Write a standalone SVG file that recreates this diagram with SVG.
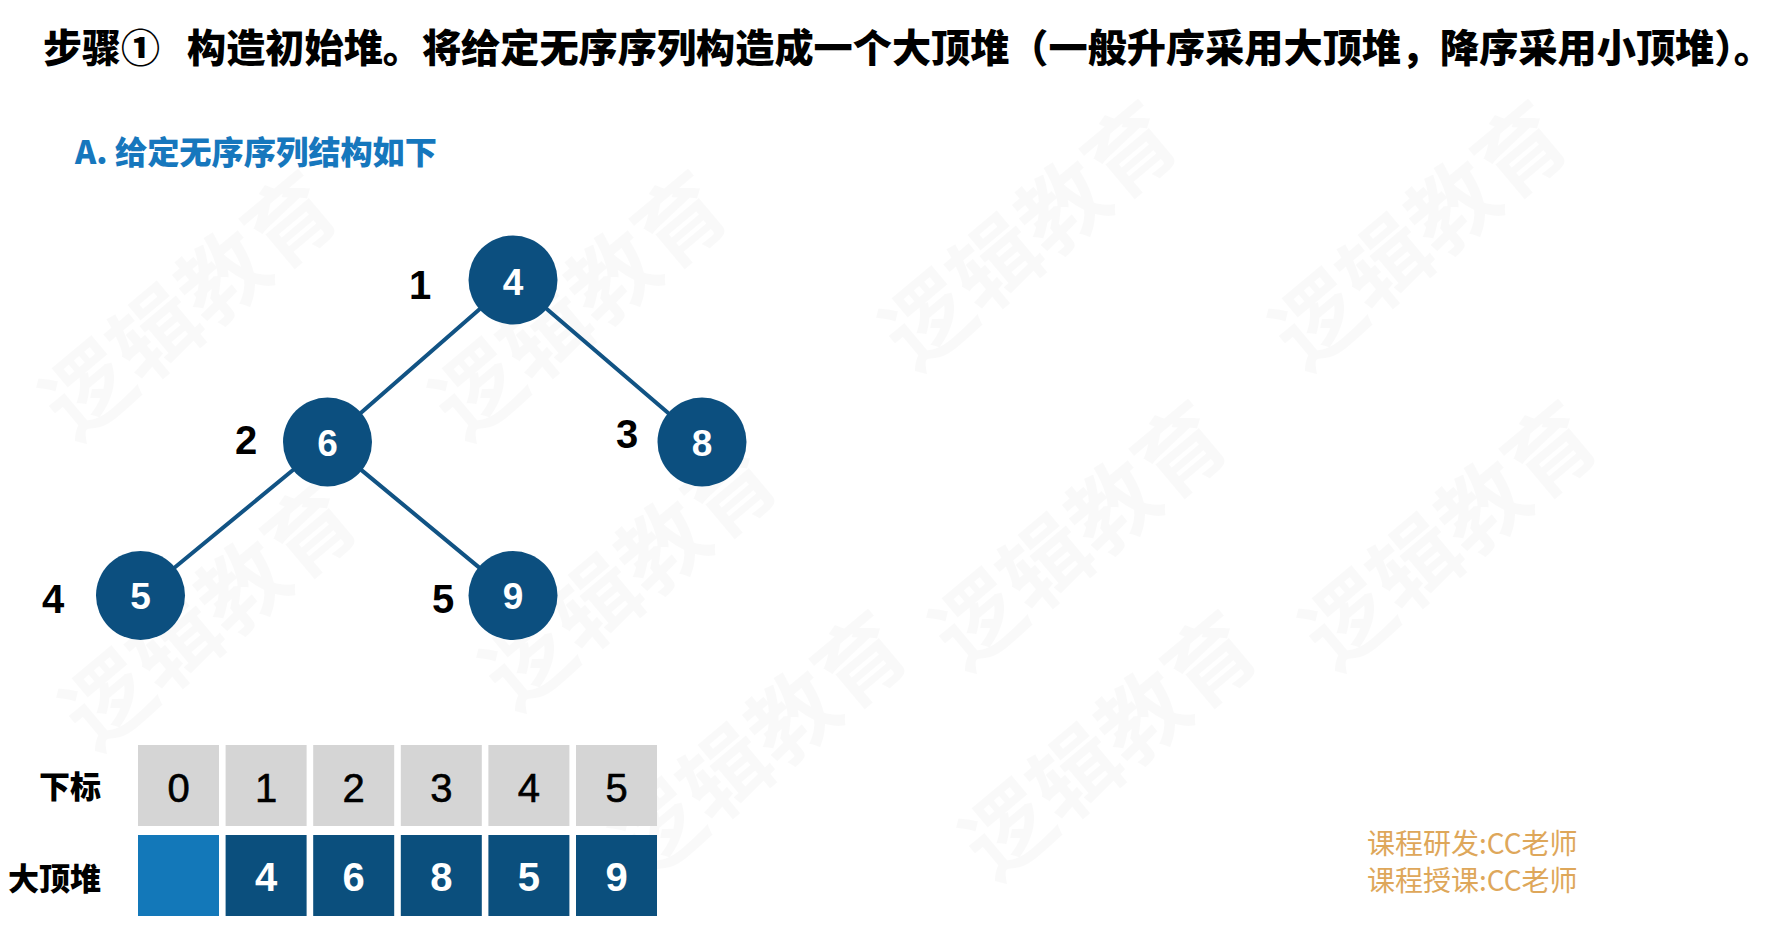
<svg xmlns="http://www.w3.org/2000/svg" width="1788" height="928" viewBox="0 0 1788 928">
  <defs>
    <style>
      .cjk { font-family: "Noto Sans CJK SC", "Noto Sans", sans-serif; }
      .title { font-size: 39px; font-weight: 900; fill: #000; }
      .sub { font-size: 32px; font-weight: 900; fill: #1677bd; }
      .wm { font-size: 88px; font-weight: 700; fill: #000; fill-opacity: 0.022; }
      .node { fill: #0c4f7f; }
      .ntext { font-family: "Liberation Sans", Arial, sans-serif; font-size: 37px; font-weight: 700; fill: #fff; text-anchor: middle; }
      .idx { font-family: "Liberation Sans", Arial, sans-serif; font-size: 40px; font-weight: 700; fill: #000; text-anchor: middle; }
      .edge { stroke: #115384; stroke-width: 4; stroke-linecap: round; fill: none; }
      .gray { fill: #d5d5d5; }
      .lblue { fill: #1378b9; }
      .dblue { fill: #0b4f7d; }
      .t1 { font-family: "Liberation Sans", Arial, sans-serif; font-size: 40px; fill: #000; text-anchor: middle; stroke: #000; stroke-width: 0.6; }
      .t2 { font-family: "Liberation Sans", Arial, sans-serif; font-size: 40px; font-weight: 700; fill: #fff; text-anchor: middle; }
      .rowlbl { font-size: 31px; font-weight: 900; fill: #000; text-anchor: end; }
      .foot { font-size: 28px; fill: #dea75a; }
    </style>
  </defs>
  <rect width="1788" height="928" fill="#fff"/>

  <g id="watermark" class="cjk wm">
    <text transform="translate(210,330) rotate(-40)" text-anchor="middle">逻辑教育</text>
    <text transform="translate(600,330) rotate(-40)" text-anchor="middle">逻辑教育</text>
    <text transform="translate(1050,260) rotate(-40)" text-anchor="middle">逻辑教育</text>
    <text transform="translate(1440,260) rotate(-40)" text-anchor="middle">逻辑教育</text>
    <text transform="translate(230,640) rotate(-40)" text-anchor="middle">逻辑教育</text>
    <text transform="translate(650,600) rotate(-40)" text-anchor="middle">逻辑教育</text>
    <text transform="translate(1100,560) rotate(-40)" text-anchor="middle">逻辑教育</text>
    <text transform="translate(1470,560) rotate(-40)" text-anchor="middle">逻辑教育</text>
    <text transform="translate(780,770) rotate(-40)" text-anchor="middle">逻辑教育</text>
    <text transform="translate(1130,770) rotate(-40)" text-anchor="middle">逻辑教育</text>
  </g>

  <g id="title" class="cjk title">
    <text x="43" y="62">步骤①</text>
    <text x="187" y="62" textLength="1586" lengthAdjust="spacingAndGlyphs">构造初始堆。将给定无序序列构造成一个大顶堆（一般升序采用大顶堆，降序采用小顶堆）。</text>
  </g>

  <g id="subtitle" class="cjk sub">
    <text x="75" y="164" textLength="362" lengthAdjust="spacingAndGlyphs">A. 给定无序序列结构如下</text>
  </g>

  <g id="connectors">
    <line class="edge" x1="479.5" y1="309.3" x2="361" y2="412.7"/>
    <line class="edge" x1="546.8" y1="309" x2="668.2" y2="413"/>
    <line class="edge" x1="293" y1="470" x2="175" y2="567.3"/>
    <line class="edge" x1="361.8" y1="470.4" x2="478.7" y2="567.1"/>
  </g>

  <g id="node-1">
    <circle class="node" cx="513" cy="280" r="44.5"/>
    <text class="ntext" x="513" y="295">4</text>
    <text class="idx" x="420" y="299">1</text>
  </g>
  <g id="node-2">
    <circle class="node" cx="327.5" cy="442" r="44.5"/>
    <text class="ntext" x="327.5" y="456">6</text>
    <text class="idx" x="246" y="454">2</text>
  </g>
  <g id="node-3">
    <circle class="node" cx="702" cy="442" r="44.5"/>
    <text class="ntext" x="702" y="456">8</text>
    <text class="idx" x="627" y="448">3</text>
  </g>
  <g id="node-4">
    <circle class="node" cx="140.5" cy="595.5" r="44.5"/>
    <text class="ntext" x="140.5" y="609">5</text>
    <text class="idx" x="53" y="613">4</text>
  </g>
  <g id="node-5">
    <circle class="node" cx="513" cy="595.5" r="44.5"/>
    <text class="ntext" x="513" y="609">9</text>
    <text class="idx" x="443" y="613">5</text>
  </g>

  <g id="array-table">
    <text class="cjk rowlbl" x="101" y="798">下标</text>
    <text class="cjk rowlbl" x="101" y="890">大顶堆</text>

    <rect class="gray" x="138" y="745" width="81" height="81"/>
    <rect class="gray" x="225.6" y="745" width="81" height="81"/>
    <rect class="gray" x="313.2" y="745" width="81" height="81"/>
    <rect class="gray" x="400.8" y="745" width="81" height="81"/>
    <rect class="gray" x="488.4" y="745" width="81" height="81"/>
    <rect class="gray" x="576" y="745" width="81" height="81"/>
    <text class="t1" x="178.5" y="802">0</text>
    <text class="t1" x="266.1" y="802">1</text>
    <text class="t1" x="353.7" y="802">2</text>
    <text class="t1" x="441.3" y="802">3</text>
    <text class="t1" x="528.9" y="802">4</text>
    <text class="t1" x="616.5" y="802">5</text>

    <rect class="lblue" x="138" y="835" width="81" height="81"/>
    <rect class="dblue" x="225.6" y="835" width="81" height="81"/>
    <rect class="dblue" x="313.2" y="835" width="81" height="81"/>
    <rect class="dblue" x="400.8" y="835" width="81" height="81"/>
    <rect class="dblue" x="488.4" y="835" width="81" height="81"/>
    <rect class="dblue" x="576" y="835" width="81" height="81"/>
    <text class="t2" x="266.1" y="891">4</text>
    <text class="t2" x="353.7" y="891">6</text>
    <text class="t2" x="441.3" y="891">8</text>
    <text class="t2" x="528.9" y="891">5</text>
    <text class="t2" x="616.5" y="891">9</text>
  </g>

  <g id="footer" class="cjk foot">
    <text x="1367" y="854">课程研发:CC老师</text>
    <text x="1367" y="891">课程授课:CC老师</text>
  </g>
</svg>
